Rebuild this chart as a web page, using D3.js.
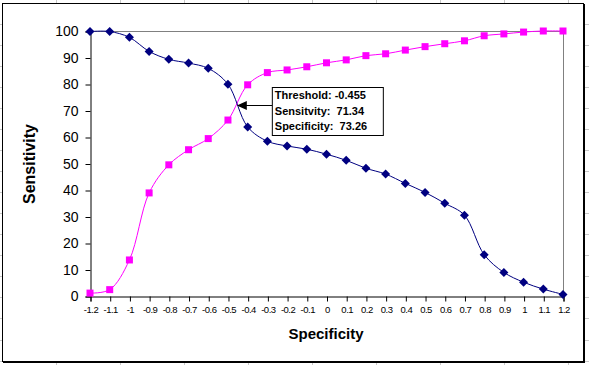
<html>
<head>
<script src="https://d3js.org/d3.v7.min.js"></script>
<style>
  body { margin: 0; background: #fff; }
  svg { display: block; font-family: Arial, 'Liberation Sans', sans-serif; }
</style>
</head>
<body>
<svg width="589" height="365"></svg>
<script>
// threshold values on the x axis
var thresholds = [-1.2, -1.1, -1.0, -0.9, -0.8, -0.7, -0.6, -0.5, -0.4, -0.3, -0.2, -0.1,
                  0.0, 0.1, 0.2, 0.3, 0.4, 0.5, 0.6, 0.7, 0.8, 0.9, 1.0, 1.1, 1.2];
var xTickLabels = ["-1.2", "-1.1", "-1", "-0.9", "-0.8", "-0.7", "-0.6", "-0.5", "-0.4", "-0.3", "-0.2", "-0.1",
                   "0", "0.1", "0.2", "0.3", "0.4", "0.5", "0.6", "0.7", "0.8", "0.9", "1", "1.1", "1.2"];
var sensitivity = [99.8, 99.8, 97.6, 92.3, 89.3, 87.9, 85.9, 79.9, 63.8, 58.4, 56.6, 55.4,
                   53.5, 51.2, 48.2, 46.0, 42.5, 39.1, 35.0, 30.5, 15.6, 8.9, 5.2, 2.6, 0.6];
var specificity = [1.1, 2.4, 13.6, 38.9, 49.5, 55.2, 59.4, 66.4, 79.7, 84.3, 85.3, 86.5,
                   88.0, 89.1, 90.7, 91.4, 92.8, 94.1, 95.2, 96.3, 98.2, 98.9, 99.6, 100, 100];
var yTicks = [0, 10, 20, 30, 40, 50, 60, 70, 80, 90, 100];
var cutoff = { threshold: -0.455, sens: 71.34, spec: 73.26 };
var boxLines = ["Threshold: -0.455", "Sensitvity:  71.34", "Specificity:  73.26"];

var svg = d3.select("svg");

// spreadsheet grid peeking out around the chart
var grid = svg.append("g").attr("stroke", "#c8c8c8").attr("stroke-width", 1);
for (var gx = 56.5; gx < 589; gx += 64) {
  grid.append("line").attr("x1", gx).attr("x2", gx).attr("y1", 0).attr("y2", 3);
  grid.append("line").attr("x1", gx).attr("x2", gx).attr("y1", 363).attr("y2", 365);
}
for (var gy = 23.5; gy < 365; gy += 21.07) {
  grid.append("line").attr("x1", 585).attr("x2", 589).attr("y1", Math.round(gy) + 0.5).attr("y2", Math.round(gy) + 0.5);
  grid.append("line").attr("x1", 0).attr("x2", 2).attr("y1", Math.round(gy) + 0.5).attr("y2", Math.round(gy) + 0.5);
}

// chart frame with a small shadow
svg.append("rect").attr("x", 3).attr("y", 4).attr("width", 582).attr("height", 359).attr("fill", "#000");
svg.append("rect").attr("x", 2.5).attr("y", 3.5).attr("width", 581).attr("height", 358)
  .attr("fill", "#fff").attr("stroke", "#000").attr("stroke-width", 1);

var x = d3.scaleLinear().domain([-1.2, 1.2]).range([90, 563]);
var y = d3.scaleLinear().domain([0, 100]).range([296, 31]);

// plot area frame (top and right in grey)
svg.append("path")
  .attr("d", "M" + x(-1.2) + "," + (y(100) + 0.5) + "H" + (x(1.2) + 0.5) + "V" + y(0))
  .attr("fill", "none").attr("stroke", "#808080").attr("stroke-width", 1);

var yAxis = d3.axisLeft(y).tickValues(yTicks).tickSize(5).tickPadding(7);
var gy0 = svg.append("g").attr("transform", "translate(" + (x(-1.2) + 0.5) + ",0.5)").call(yAxis);
gy0.select(".domain").attr("stroke", "#000");
gy0.selectAll("text").attr("font-size", 14).attr("font-family", "Arial, 'Liberation Sans', sans-serif").attr("fill", "#000");

var xAxis = d3.axisBottom(x).tickValues(thresholds).tickSize(5).tickPadding(5)
  .tickFormat(function (d, i) { return xTickLabels[i]; });
var gx0 = svg.append("g").attr("transform", "translate(0.5," + (y(0) + 0.5) + ")").call(xAxis);
gx0.select(".domain").attr("stroke", "#000");
gx0.selectAll("text").attr("font-size", 9.5).attr("letter-spacing", "-0.5px")
  .attr("font-family", "Arial, 'Liberation Sans', sans-serif").attr("fill", "#000");

// axis titles
svg.append("text").attr("x", 326).attr("y", 339).attr("text-anchor", "middle")
  .attr("font-size", 15).attr("font-weight", "bold").text("Specificity");
svg.append("text").attr("transform", "translate(35,164) rotate(-90)").attr("text-anchor", "middle")
  .attr("font-size", 16).attr("font-weight", "bold").text("Sensitivity");

var line = function (vals) {
  return d3.line()
    .x(function (d, i) { return x(thresholds[i]); })
    .y(function (d) { return y(d); })
    .curve(d3.curveCatmullRom.alpha(0.5))(vals);
};

// specificity (magenta squares)
svg.append("path").attr("d", line(specificity)).attr("fill", "none").attr("stroke", "#ff00ff").attr("stroke-width", 1);
svg.selectAll("rect.spec").data(specificity).enter().append("rect").attr("class", "spec")
  .attr("x", function (d, i) { return x(thresholds[i]) - 3.5; })
  .attr("y", function (d) { return y(d) - 3.5; })
  .attr("width", 7).attr("height", 7).attr("fill", "#ff00ff");

// sensitivity (navy diamonds)
svg.append("path").attr("d", line(sensitivity)).attr("fill", "none").attr("stroke", "#000080").attr("stroke-width", 1);
svg.selectAll("path.sens").data(sensitivity).enter().append("path").attr("class", "sens")
  .attr("transform", function (d, i) { return "translate(" + x(thresholds[i]) + "," + y(d) + ")"; })
  .attr("d", "M0,-4.5L4.5,0L0,4.5L-4.5,0Z").attr("fill", "#000080");

// annotation box with arrow
var tipX = x(cutoff.threshold), tipY = y(cutoff.sens) - 2;
var boxX = tipX + 35.5, boxY = 87.5;
svg.append("line").attr("x1", boxX).attr("x2", tipX + 8).attr("y1", Math.round(tipY) + 0.5).attr("y2", Math.round(tipY) + 0.5)
  .attr("stroke", "#000").attr("stroke-width", 1);
svg.append("path")
  .attr("d", "M" + tipX + "," + (Math.round(tipY) + 0.5) + "L" + (tipX + 10) + "," + (Math.round(tipY) - 4) +
             "L" + (tipX + 10) + "," + (Math.round(tipY) + 5) + "Z")
  .attr("fill", "#000");
svg.append("rect").attr("x", boxX).attr("y", boxY).attr("width", 111).attr("height", 48)
  .attr("fill", "#fff").attr("stroke", "#000").attr("stroke-width", 1);
svg.selectAll("text.box").data(boxLines).enter().append("text").attr("class", "box")
  .attr("x", boxX + 2.5).attr("y", function (d, i) { return boxY + 11.5 + i * 15.5; })
  .attr("font-size", 11).attr("font-weight", "bold").style("white-space", "pre")
  .text(function (d) { return d; });
</script>
</body>
</html>
